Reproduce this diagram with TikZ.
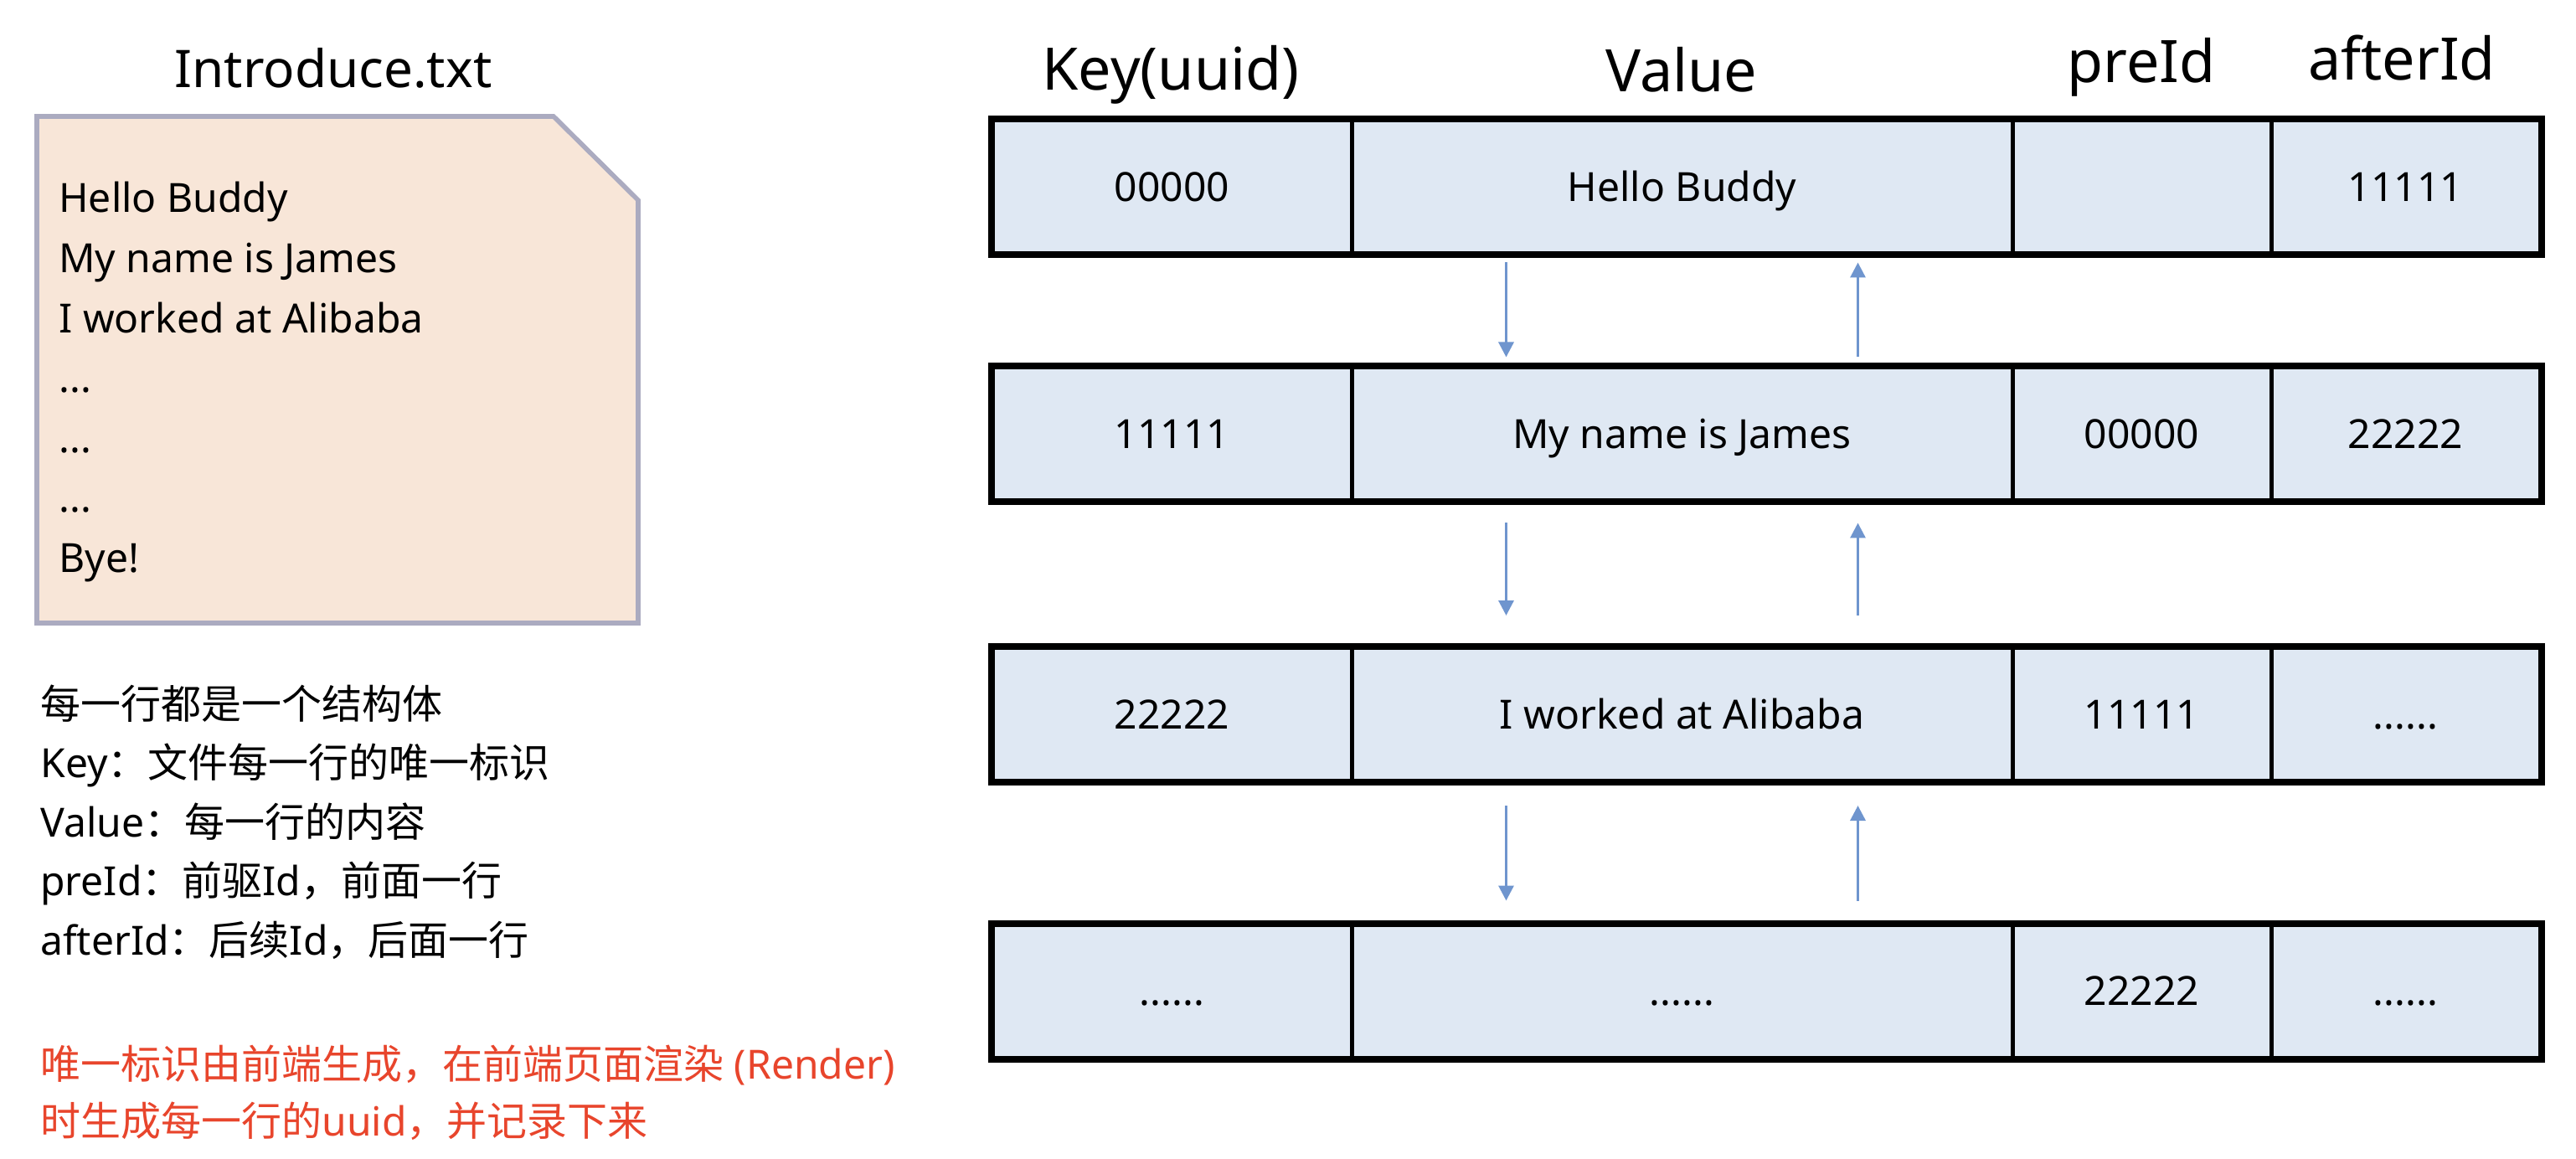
\documentclass[tikz,border=0pt]{standalone}
\usepackage{fontspec}
\setmainfont{Noto Sans}
\newfontfamily\cjk{Noto Sans CJK SC}
\usetikzlibrary{arrows.meta}
\definecolor{cellblue}{HTML}{DFE8F3}
\definecolor{filepeach}{HTML}{F8E6D8}
\definecolor{fileedge}{HTML}{ABABC0}
\definecolor{linkblue}{HTML}{6F95CE}
\definecolor{notered}{HTML}{E8452C}

\begin{document}
\begin{tikzpicture}
[x=1pt, y=-1pt,
 cell/.style={draw=black, line width=2.5pt, fill=cellblue, minimum height=79.5pt, inner sep=0pt, text height=22pt, text depth=5pt, font=\fontsize{24}{28}\selectfont},
 keycell/.style={cell, minimum width=214.5pt},
 valcell/.style={cell, minimum width=394.5pt},
 precell/.style={cell, minimum width=154.5pt},
 aftcell/.style={cell, minimum width=160.5pt},
 head/.style={anchor=base, font=\fontsize{35}{40}\selectfont},
 link/.style={-{Triangle[width=9pt,length=9pt]}, line width=1.6pt, draw=linkblue},
 textblock/.style={anchor=base west, align=left, inner sep=0pt}]

\useasboundingbox (0,0) rectangle (1538,692);

% the file (text nodes sit on their last baseline)
\node[anchor=base, font=\fontsize{31}{36}\selectfont] (title) at (199,52.5) {Introduce.txt};
\draw[fill=filepeach, draw=fileedge, line width=2.8pt] (22,69.5) -- (330.5,69.5) -- (381,119.5) -- (381,372) -- (22,372) -- cycle;
\node[textblock, font=\fontsize{24}{35.75}\selectfont] (lines) at (35,341.5) {Hello Buddy\\My name is James\\I worked at Alibaba\\...\\...\\...\\Bye!};

% notes
\node[textblock, font=\fontsize{24}{35.25}\selectfont] (notes) at (24,570) {{\cjk 每一行都是一个结构体}\\Key{\cjk ：文件每一行的唯一标识}\\Value{\cjk ：每一行的内容}\\preId{\cjk ：前驱}Id{\cjk ，前面一行}\\afterId{\cjk ：后续}Id{\cjk ，后面一行}};
\node[textblock, text=notered, font=\fontsize{24}{34}\selectfont] (remark) at (24,678) {{\cjk 唯一标识由前端生成，在前端页面渲染} (Render)\\{\cjk 时生成每一行的}uuid{\cjk ，并记录下来}};

% headers
\node[head] (hkey) at (699,54) {Key(uuid)};
\node[head] (hval) at (1004,55) {Value};
\node[head] (hpre) at (1278.5,49.5) {preId};
\node[head] (haft) at (1434,48) {afterId};

% rows
\node[keycell] (k1) at (699.75,111.75) {00000};
\node[valcell] (v1) at (1004.25,111.75) {Hello Buddy};
\node[precell] (p1) at (1278.75,111.75) {};
\node[aftcell] (a1) at (1436.25,111.75) {11111};

\node[keycell] (k2) at (699.75,259.25) {11111};
\node[valcell] (v2) at (1004.25,259.25) {My name is James};
\node[precell] (p2) at (1278.75,259.25) {00000};
\node[aftcell] (a2) at (1436.25,259.25) {22222};

\node[keycell] (k3) at (699.75,426.5) {22222};
\node[valcell] (v3) at (1004.25,426.5) {I worked at Alibaba};
\node[precell] (p3) at (1278.75,426.5) {11111};
\node[aftcell] (a3) at (1436.25,426.5) {......};

\node[keycell] (k4) at (699.75,591.75) {......};
\node[valcell] (v4) at (1004.25,591.75) {......};
\node[precell] (p4) at (1278.75,591.75) {22222};
\node[aftcell] (a4) at (1436.25,591.75) {......};

\draw[line width=3pt] (k1.north west) rectangle (a1.south east);
\draw[line width=3pt] (k2.north west) rectangle (a2.south east);
\draw[line width=3pt] (k3.north west) rectangle (a3.south east);
\draw[line width=3pt] (k4.north west) rectangle (a4.south east);

% links
\draw[link, shorten <=4pt, shorten >=5pt] ([xshift=-105pt]v1.south) -- ([xshift=-105pt]v2.north);
\draw[link, shorten <=5pt, shorten >=4pt] ([xshift=105pt]v2.north) -- ([xshift=105pt]v1.south);
\draw[link, shorten <=12pt, shorten >=18pt] ([xshift=-105pt]v2.south) -- ([xshift=-105pt]v3.north);
\draw[link, shorten <=18pt, shorten >=12pt] ([xshift=105pt]v3.north) -- ([xshift=105pt]v2.south);
\draw[link, shorten <=13.5pt, shorten >=13pt] ([xshift=-105pt]v3.south) -- ([xshift=-105pt]v4.north);
\draw[link, shorten <=13pt, shorten >=13.5pt] ([xshift=105pt]v4.north) -- ([xshift=105pt]v3.south);
\end{tikzpicture}
\end{document}
